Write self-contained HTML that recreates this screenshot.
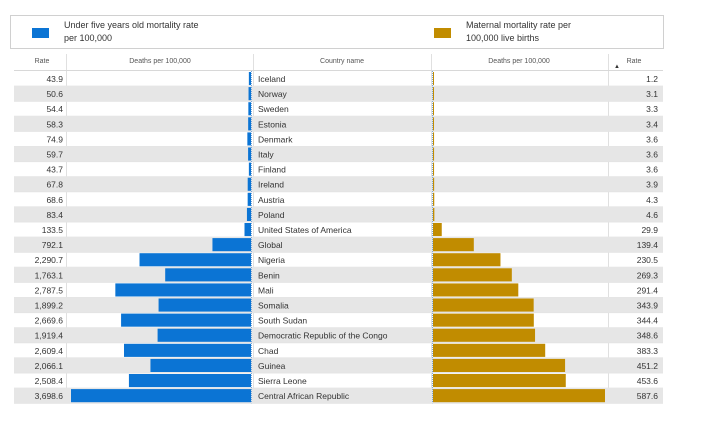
<!DOCTYPE html>
<html><head><meta charset="utf-8"><style>
body{margin:0;width:707px;height:424px;background:#fff;font-family:"Liberation Sans",sans-serif;overflow:hidden}
svg text{font-family:"Liberation Sans",sans-serif}
</style></head><body>
<svg id="c" width="707" height="424">
<g>
<rect x="10.5" y="15.5" width="653" height="33" fill="#fff" stroke="#d0d0d0"/>
<rect x="32" y="28" width="17" height="10" fill="#0b74d4"/>
<text x="64" y="28" font-size="9" fill="#333">Under five years old mortality rate</text>
<text x="64" y="41" font-size="9" fill="#333">per 100,000</text>
<rect x="434" y="28" width="17" height="10" fill="#c18c00"/>
<text x="466" y="28" font-size="9" fill="#333">Maternal mortality rate per</text>
<text x="466" y="41" font-size="9" fill="#333">100,000 live births</text>
</g>
<g>
<text x="42" y="63" font-size="7" fill="#555" text-anchor="middle">Rate</text>
<text x="160" y="63" font-size="7" fill="#555" text-anchor="middle">Deaths per 100,000</text>
<text x="342" y="63" font-size="7" fill="#555" text-anchor="middle">Country name</text>
<text x="519" y="63" font-size="7" fill="#555" text-anchor="middle">Deaths per 100,000</text>
<text x="634" y="63" font-size="7" fill="#555" text-anchor="middle">Rate</text>
<text x="614" y="68" font-size="6" fill="#333">▲</text>
<line x1="66.5" y1="54" x2="66.5" y2="403" stroke="#e0e0e0"/>
<line x1="253.5" y1="54" x2="253.5" y2="403" stroke="#e0e0e0"/>
<line x1="431.5" y1="54" x2="431.5" y2="403" stroke="#e0e0e0"/>
<line x1="608.5" y1="54" x2="608.5" y2="403" stroke="#e0e0e0"/>
<line x1="14" y1="70.5" x2="663" y2="70.5" stroke="#d8d8d8"/>
</g>
<g id="rows"></g>
</svg>
<script>
const countries=["Iceland","Norway","Sweden","Estonia","Denmark","Italy","Finland","Ireland","Austria","Poland","United States of America","Global","Nigeria","Benin","Mali","Somalia","South Sudan","Democratic Republic of the Congo","Chad","Guinea","Sierra Leone","Central African Republic"];
const underFive=[43.9,50.6,54.4,58.3,74.9,59.7,43.7,67.8,68.6,83.4,133.5,792.1,2290.7,1763.1,2787.5,1899.2,2669.6,1919.4,2609.4,2066.1,2508.4,3698.6];
const maternal=[1.2,3.1,3.3,3.4,3.6,3.6,3.6,3.9,4.3,4.6,29.9,139.4,230.5,269.3,291.4,343.9,344.4,348.6,383.3,451.2,453.6,587.6];
const NS="http://www.w3.org/2000/svg";
const g=document.getElementById('rows');
const top0=71,rh=15.1;
const leftAxis=251,leftW=180,leftMax=3698.6;
const rightAxis=433,rightW=172,rightMax=587.6;
const xL=v=>v/leftMax*leftW;
const xR=v=>v/rightMax*rightW;
const fmt=v=>v.toLocaleString('en-US',{minimumFractionDigits:1,maximumFractionDigits:1});
function mk(t,a){const e=document.createElementNS(NS,t);for(const k in a)e.setAttribute(k,a[k]);g.appendChild(e);return e;}
countries.forEach((c,i)=>{
 const y=top0+i*rh;
 if(i%2==1){const r=mk('rect',{x:14,y:y,width:649,height:rh,fill:'#e6e6e6'});
 
 }
 const ln=mk('line',{x1:14,y1:y+rh,x2:663,y2:y+rh,stroke:'#e4e4e4'});
 
 
 const w1=Math.max(2,xL(underFive[i]));
 const b1=mk('rect',{x:leftAxis-w1,y:y+1,width:w1,height:rh-2,fill:'#0b74d4'});
 
 
 const w2=Math.max(1,xR(maternal[i]));
 const b2=mk('rect',{x:rightAxis,y:y+1,width:w2,height:rh-2,fill:'#c18c00'});
 
 
 const t1=mk('text',{x:63,y:y+11,'font-size':8.5,fill:'#333','text-anchor':'end'});t1.textContent=fmt(underFive[i]);
 
 
 const t2=mk('text',{x:258,y:y+11,'font-size':8.5,fill:'#333'});t2.textContent=c;
 
 
 const t3=mk('text',{x:658,y:y+11,'font-size':8.5,fill:'#333','text-anchor':'end'});t3.textContent=fmt(maternal[i]);
 
 
});
const a1=mk('line',{x1:leftAxis+0.5,y1:top0,x2:leftAxis+0.5,y2:top0+rh*22,stroke:'#7aa7d8','stroke-dasharray':'1,1'});


const a2=mk('line',{x1:rightAxis-0.5,y1:top0,x2:rightAxis-0.5,y2:top0+rh*22,stroke:'#7aa7d8','stroke-dasharray':'1,1'});


</script>
</body></html>
